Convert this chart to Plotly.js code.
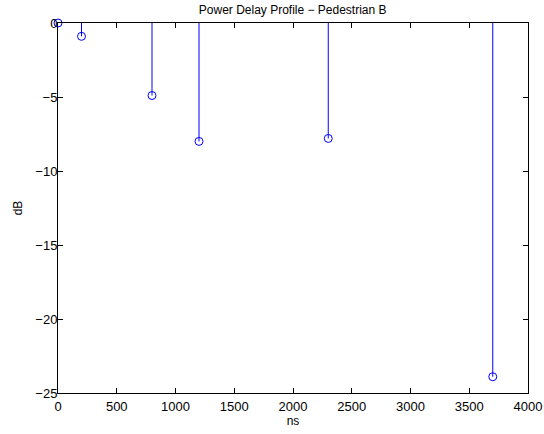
<!DOCTYPE html>
<html>
<head>
<meta charset="utf-8">
<script src="https://cdn.plot.ly/plotly-3.0.1.min.js"></script>
<style>html,body{margin:0;padding:0;background:#fff;}#chart{width:544px;height:434px;}</style>
</head>
<body>
<div id="chart"></div>
<script>
const delaysNs = [0, 200, 800, 1200, 2300, 3700];
const powersDb = [0, -0.9, -4.9, -8.0, -7.8, -23.9];
const xTicks = [0, 500, 1000, 1500, 2000, 2500, 3000, 3500, 4000];
const yTicks = [-25, -20, -15, -10, -5, 0];
const baseline = 0;

const stemX = [], stemY = [];
delaysNs.forEach((d, i) => { stemX.push(d, d, null); stemY.push(baseline, powersDb[i], null); });

const blue = 'rgb(0,0,255)';
const fam = 'Liberation Sans, Arial, Helvetica, sans-serif';
const font = {family: fam, size: 12, color: '#000'};
const tickFont = {family: fam, size: 13, color: '#000'};

const data = [
  {x: stemX, y: stemY, type: 'scatter', mode: 'lines', line: {color: blue, width: 1}, hoverinfo: 'skip', cliponaxis: false},
  {x: delaysNs, y: powersDb, type: 'scatter', mode: 'markers', cliponaxis: false,
   marker: {symbol: 'circle-open', size: 8, color: blue, line: {color: blue, width: 1}}}
];

const axisCommon = {
  showgrid: false, zeroline: false, showline: true, linecolor: '#000', linewidth: 1,
  mirror: 'ticks', ticks: 'inside', ticklen: 5, tickcolor: '#000', tickwidth: 1,
  tickfont: tickFont, fixedrange: true
};

const layout = {
  width: 544, height: 434,
  margin: {l: 58, r: 16, t: 23, b: 41},
  paper_bgcolor: '#fff', plot_bgcolor: '#fff',
  showlegend: false,
  font: font,
  title: {text: 'Power Delay Profile \u2212 Pedestrian B', font: font, x: 0.538, xanchor: 'center', y: 0.977, yanchor: 'middle'},
  xaxis: Object.assign({}, axisCommon, {range: [0, 4000], tickvals: xTicks, ticktext: xTicks.map(String),
    ticklabelstandoff: 1,
    title: {text: 'ns', font: font, standoff: 4}}),
  yaxis: Object.assign({}, axisCommon, {range: [-25, 0], tickvals: yTicks,
    ticktext: yTicks.map(v => v < 0 ? '\u2212' + Math.abs(v) : String(v)),
    ticklabelstandoff: -3,
    title: {text: 'dB', font: font, standoff: 10}})
};

Plotly.newPlot('chart', data, layout, {displayModeBar: false, staticPlot: true});
</script>
</body>
</html>
